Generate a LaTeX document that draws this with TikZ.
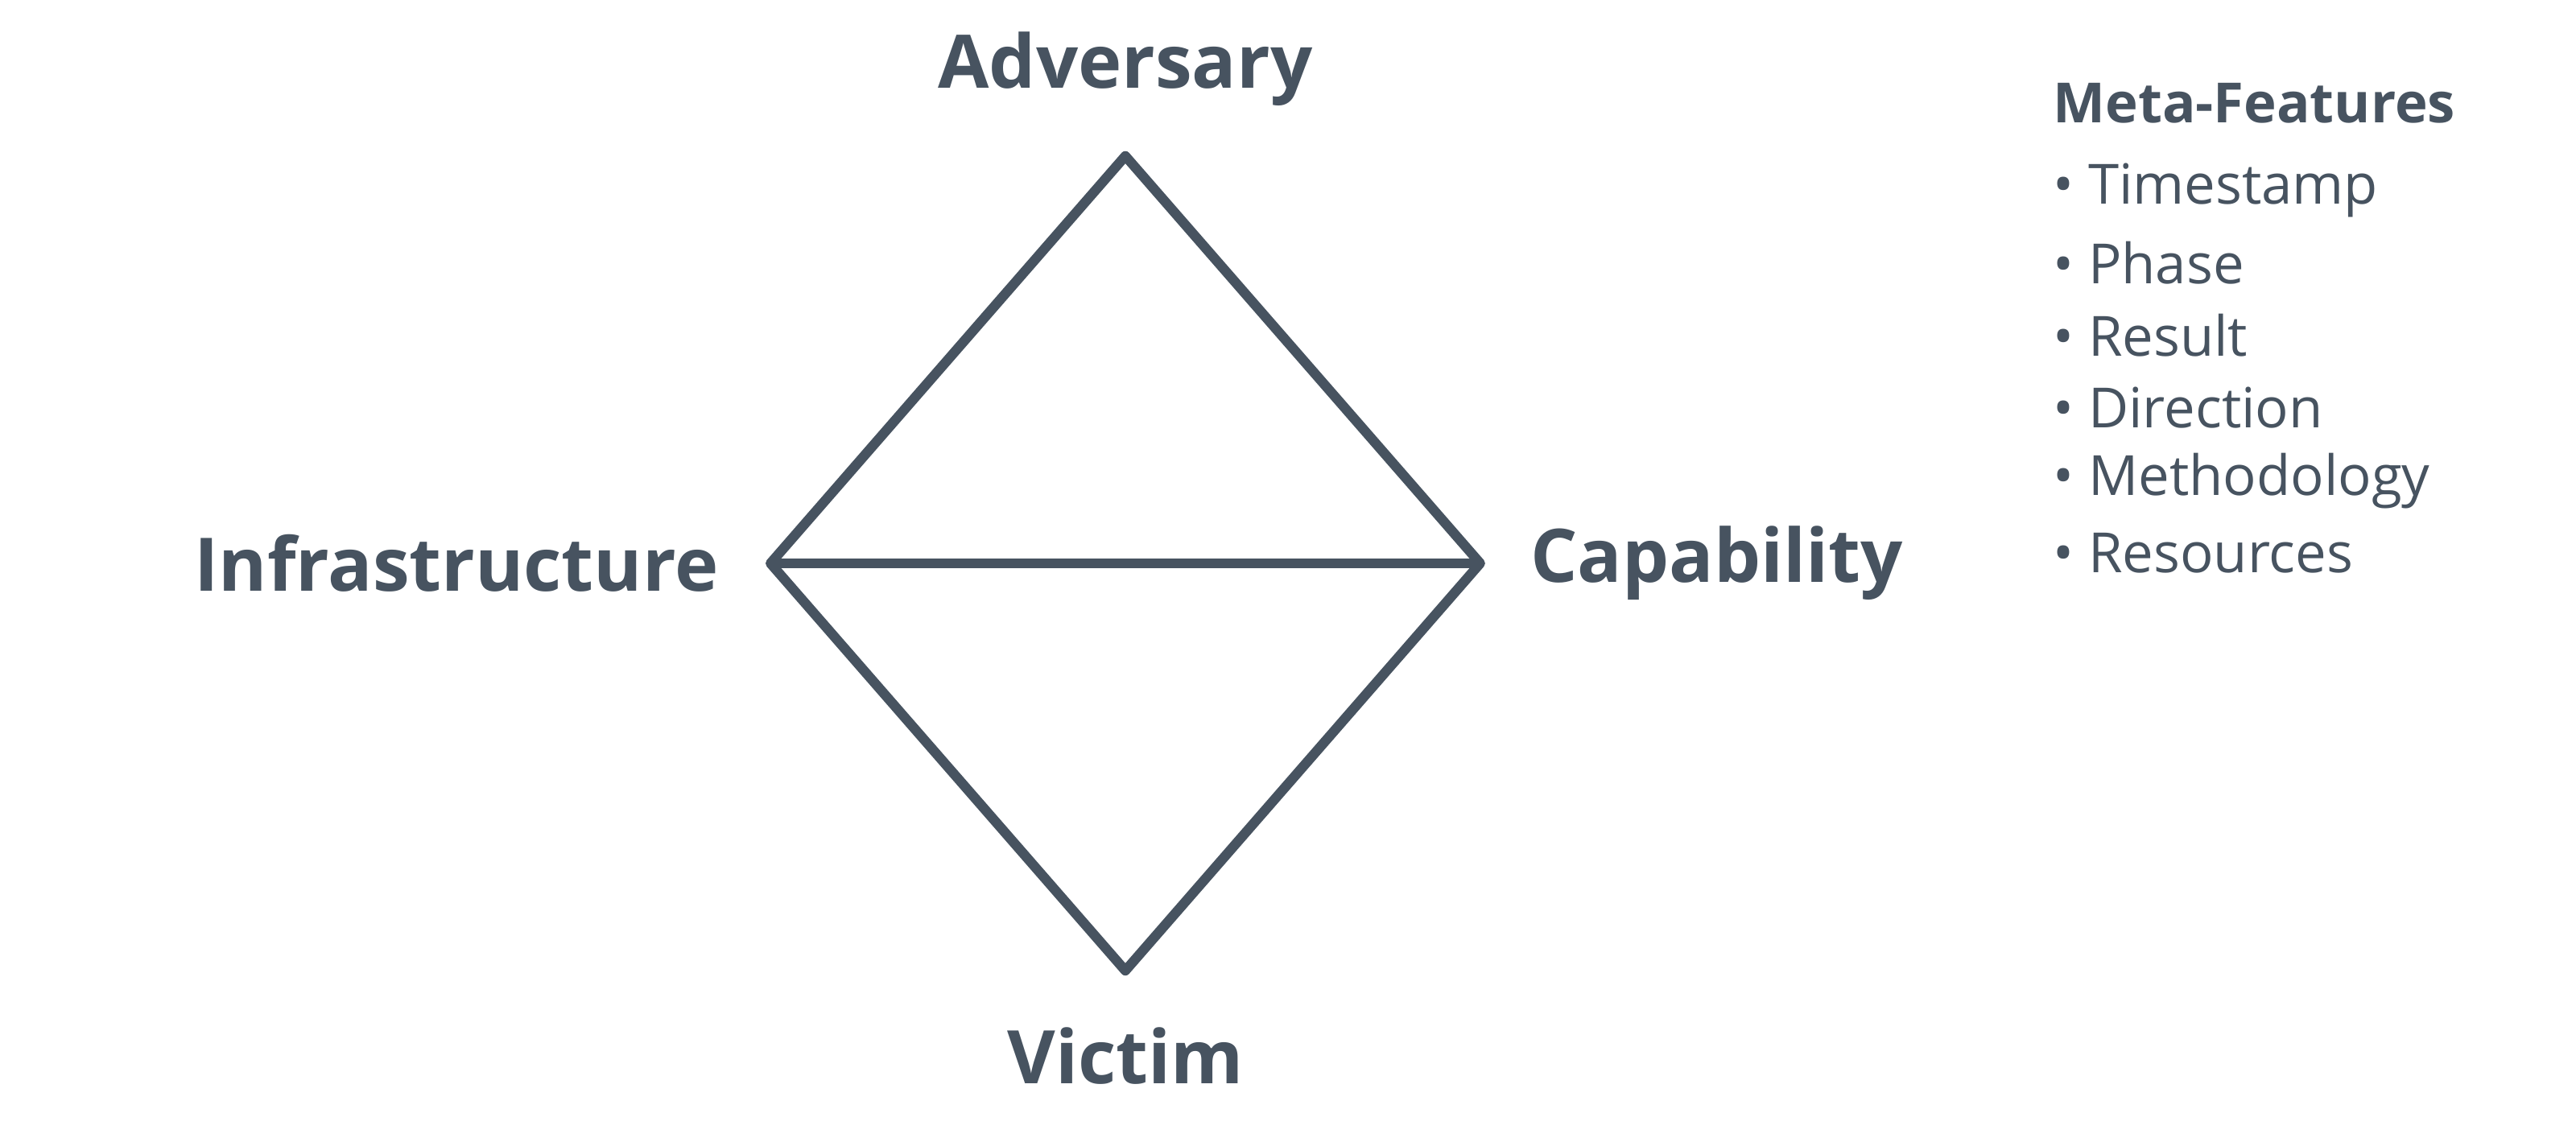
\documentclass[tikz,border=0pt]{standalone}
\usepackage{fontspec}
\setmainfont{Open Sans}
\definecolor{slate}{HTML}{475360}
\begin{document}
\begin{tikzpicture}[x=0.01cm,y=-0.01cm]
						\tikzstyle{every node}+=[inner sep=0pt,text=slate]
						\tikzstyle{vertex}=[font=\fontsize{12.8}{15}\selectfont\bfseries]
						\tikzstyle{meta}=[font=\fontsize{9.6}{12}\selectfont,anchor=west]
						\useasboundingbox (0,0) rectangle (1568,695);
						\coordinate (top) at (685,95);
						\coordinate (left) at (469,343);
						\coordinate (right) at (901,343);
						\coordinate (bottom) at (685,591);
						\draw [slate,line width=1.7pt,line join=round] (top) -- (right) -- (bottom) -- (left) -- cycle;
						\draw [slate,line width=1.7pt] (left) -- (right);
						\node [vertex] (adversary) at (685,42) {Adversary};
						\node [vertex,anchor=east] (infrastructure) at (438,343) {Infrastructure};
						\node [vertex,anchor=west] (capability) at (931,343) {Capability};
						\node [vertex] (victim) at (685,643) {Victim};
						\node [meta,font=\fontsize{9.6}{12}\selectfont\bfseries] (metafeatures) at (1249,63) {Meta-Features};
						\node [meta] (timestamp) at (1249,116) {• Timestamp};
						\node [meta] (phase) at (1249,160) {• Phase};
						\node [meta] (result) at (1249,204) {• Result};
						\node [meta] (direction) at (1249,248) {• Direction};
						\node [meta] (methodology) at (1249,293) {• Methodology};
						\node [meta] (resources) at (1249,337) {• Resources};
					\end{tikzpicture}
\end{document}
